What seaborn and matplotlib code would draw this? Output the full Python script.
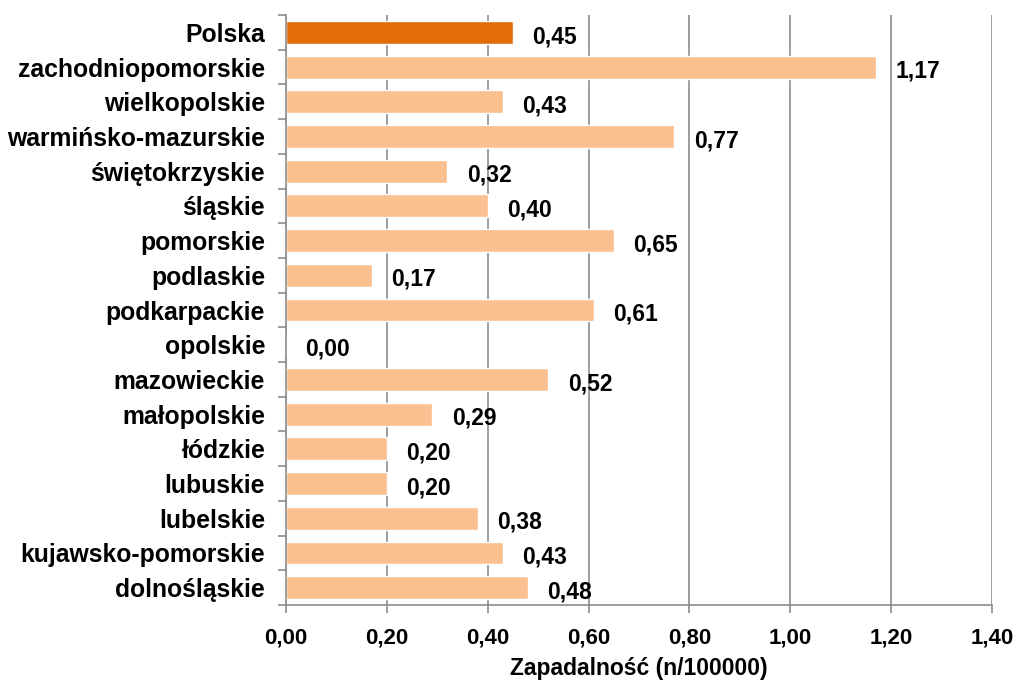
import matplotlib
matplotlib.use("Agg")
import matplotlib.pyplot as plt
import seaborn as sns
import pandas as pd
import numpy as np
from matplotlib.ticker import FixedLocator

categories = ["Polska", "zachodniopomorskie", "wielkopolskie", "warmińsko-mazurskie",
              "świętokrzyskie", "śląskie", "pomorskie", "podlaskie", "podkarpackie",
              "opolskie", "mazowieckie", "małopolskie", "łódzkie", "lubuskie",
              "lubelskie", "kujawsko-pomorskie", "dolnośląskie"]
values = [0.45, 1.17, 0.43, 0.77, 0.32, 0.40, 0.65, 0.17, 0.61,
          0.00, 0.52, 0.29, 0.20, 0.20, 0.38, 0.43, 0.48]
groups = ["kraj"] + ["woj"] * 16
xticks = [0.0, 0.2, 0.4, 0.6, 0.8, 1.0, 1.2, 1.4]
xlabel = "Zapadalność (n/100000)"

df = pd.DataFrame({"region": categories, "value": values, "group": groups})

sns.set_style("white")
plt.rcParams['font.family'] = ['Liberation Sans', 'DejaVu Sans']
plt.rcParams['font.weight'] = 'bold'
plt.rcParams['text.color'] = 'black'
plt.rcParams['axes.labelcolor'] = 'black'
plt.rcParams['xtick.labelcolor'] = 'black'
plt.rcParams['ytick.labelcolor'] = 'black'

fig = plt.figure(figsize=(10.19, 6.88), dpi=100)
ax = fig.add_axes([0.2807, 0.1206, 0.6928, 0.8576])

sns.barplot(data=df, y="region", x="value", hue="group", order=categories,
            palette={"kraj": "#E36C0A", "woj": "#FAC090"}, width=0.66,
            orient="h", legend=False, ax=ax, saturation=1)

ax.set_xlim(0, 1.4)
ax.set_ylim(len(categories) - 0.5, -0.5)
ax.set_xticks(xticks)
ax.set_xticklabels([f"{t:.2f}".replace(".", ",") for t in xticks],
                   fontsize=16, fontweight='bold', color='black')
ax.xaxis.grid(True, color="#8C8C8C", linewidth=1.2)
ax.set_axisbelow(True)

ax.set_yticks(range(len(categories)))
ax.set_yticklabels(categories, fontsize=17.8, fontweight='bold', color='black')
ax.tick_params(axis='y', which='major', length=0, pad=15)
ax.yaxis.set_minor_locator(FixedLocator(np.arange(-0.5, len(categories), 1)))
ax.tick_params(axis='y', which='minor', length=6, color="#8C8C8C", width=1.2, left=True)
ax.tick_params(axis='x', which='major', length=6, color="#8C8C8C", width=1.2, pad=10, bottom=True)

for s in ["top", "right"]:
    ax.spines[s].set_visible(False)
for s in ["left", "bottom"]:
    ax.spines[s].set_color("#8C8C8C")
    ax.spines[s].set_linewidth(1.2)

ax.set_ylabel("")
ax.set_xlabel(xlabel, fontsize=16.5, fontweight='bold', labelpad=6, color='black')

for i, v in enumerate(values):
    ax.annotate(f"{v:.2f}".replace(".", ","), xy=(v, i), xytext=(14, -3),
                textcoords="offset points", va="center", ha="left",
                fontsize=16.5, fontweight='bold', color="black")

fig.savefig("out.png", dpi=100)
